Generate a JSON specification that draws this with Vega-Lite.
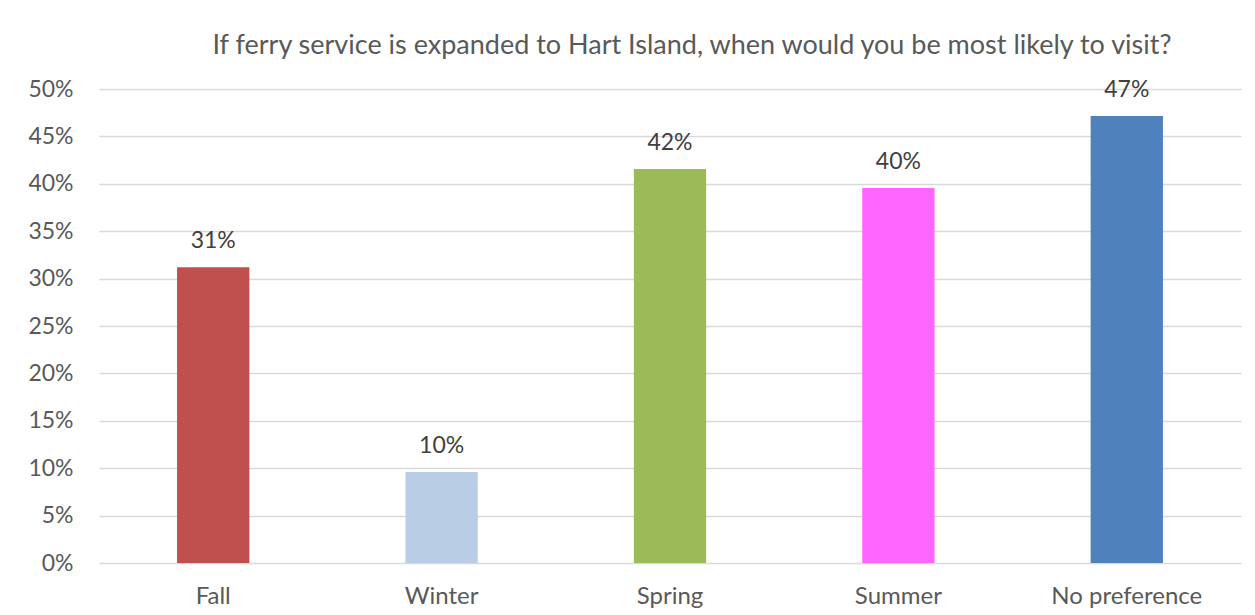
{
  "$schema": "https://vega.github.io/schema/vega-lite/v6.json",
  "autosize": {"type": "none"},
  "width": 1142,
  "height": 474,
  "padding": {"left": 99, "top": 89, "right": 14, "bottom": 52},
  "background": "white",
  "title": {
    "text": "If ferry service is expanded to Hart Island, when would you be most likely to visit?",
    "font": "Lato",
    "fontSize": 27,
    "fontWeight": "normal",
    "color": "#595959",
    "anchor": "middle",
    "dx": 22,
    "offset": 18
  },
  "data": {
    "values": [
      {"season": "Fall", "share": 0.312, "label": "31%"},
      {"season": "Winter", "share": 0.096, "label": "10%"},
      {"season": "Spring", "share": 0.4155, "label": "42%"},
      {"season": "Summer", "share": 0.3955, "label": "40%"},
      {"season": "No preference", "share": 0.4715, "label": "47%"}
    ]
  },
  "encoding": {
    "x": {
      "field": "season",
      "type": "nominal",
      "sort": null,
      "scale": {"paddingInner": 0, "paddingOuter": 0},
      "axis": {
        "title": null,
        "labelAngle": 0,
        "labelFont": "Lato",
        "labelFontSize": 24,
        "labelColor": "#595959",
        "labelPadding": 21,
        "ticks": false,
        "domain": false
      }
    },
    "y": {
      "field": "share",
      "type": "quantitative",
      "scale": {"domain": [0, 0.5]},
      "axis": {
        "title": null,
        "format": ".0%",
        "values": [0, 0.05, 0.1, 0.15, 0.2, 0.25, 0.3, 0.35, 0.4, 0.45, 0.5],
        "labelFont": "Lato",
        "labelFontSize": 23,
        "labelColor": "#595959",
        "labelPadding": 26,
        "ticks": false,
        "domain": false,
        "grid": true,
        "gridColor": "#d9d9d9",
        "gridWidth": 1.5
      }
    }
  },
  "layer": [
    {
      "mark": {"type": "bar", "width": {"band": 0.3166}},
      "encoding": {
        "color": {
          "field": "season",
          "type": "nominal",
          "legend": null,
          "scale": {
            "domain": ["Fall", "Winter", "Spring", "Summer", "No preference"],
            "range": ["#C0504D", "#B9CDE5", "#9BBB59", "#FF66FF", "#4F81BD"]
          }
        }
      }
    },
    {
      "mark": {
        "type": "text",
        "font": "Lato",
        "fontSize": 23,
        "color": "#404040",
        "baseline": "alphabetic",
        "dy": -19
      },
      "encoding": {"text": {"field": "label"}}
    }
  ],
  "config": {"view": {"stroke": null}}
}
